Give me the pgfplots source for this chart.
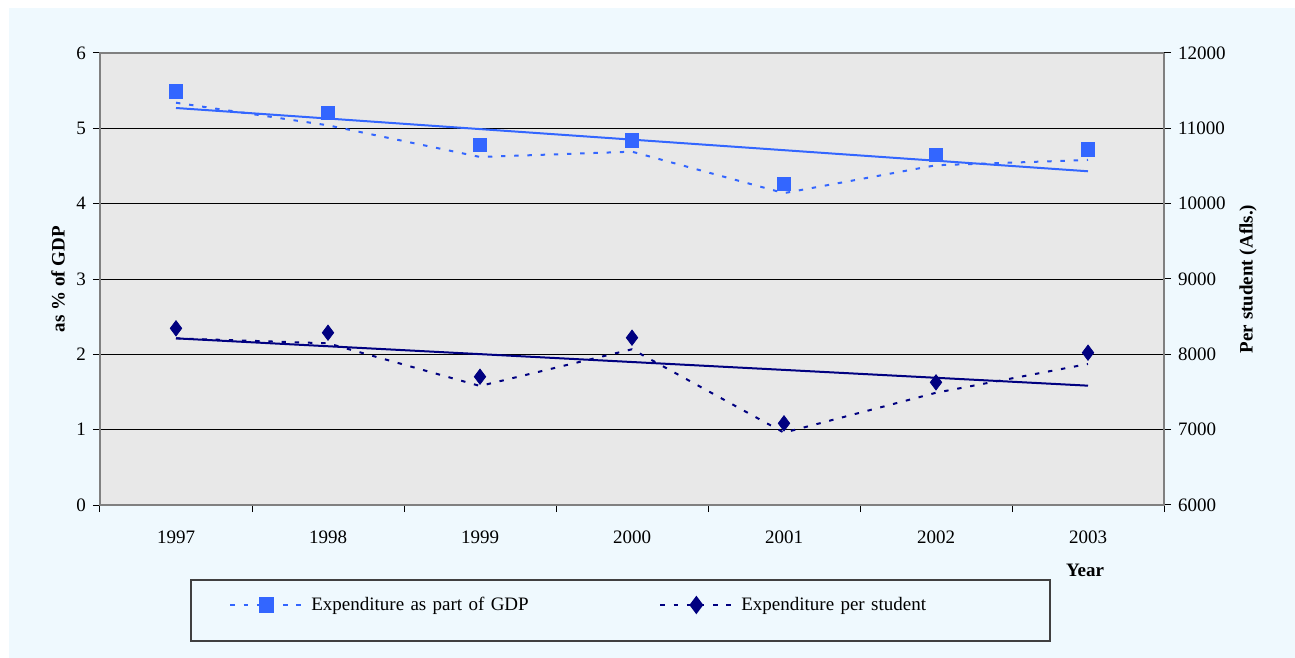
\documentclass[border=0pt]{standalone}
\usepackage{pgfplots}
\pgfplotsset{compat=1.18}
\usepackage{fontspec}
\setmainfont{Liberation Serif}
\definecolor{bgc}{RGB}{239,249,254}
\definecolor{plotbg}{RGB}{232,232,232}
\definecolor{gdpblue}{RGB}{51,102,255}
\definecolor{navy}{RGB}{0,0,128}
\definecolor{framegray}{RGB}{128,128,128}
\begin{document}
\begin{tikzpicture}
\useasboundingbox (-50pt,-76.5pt) rectangle (597.5pt,252.5pt);
\fill[bgc] (-45.5pt,-76.5pt) rectangle (597.5pt,248.5pt);
\pgfplotsset{
  every axis/.append style={
    scale only axis, width=532pt, height=226pt,
    at={(0,0)}, anchor=south west,
    font=\fontsize{9.5}{11}\selectfont,
    /pgf/number format/assume math mode=true,
    /pgf/number format/1000 sep={},
    xmin=-0.5, xmax=6.5,
    axis line style={draw=framegray, line width=1.2pt},
    every tick/.style={black, line width=0.5pt},
    tick align=outside,
    major tick length=3.5pt,
  },
  gdpline/.style={color=gdpblue, line width=1pt, dash pattern=on 2.2pt off 4.4pt},
  stuline/.style={color=navy, line width=1pt, dash pattern=on 2.2pt off 4.4pt},
}
\begin{axis}[
  axis background/.style={fill=plotbg},
  ymin=0, ymax=6, ytick={0,1,...,6},
  xtick={0,1,2,3,4,5,6},
  xticklabels={1997,1998,1999,2000,2001,2002,2003},
  minor xtick={-0.5,0.5,1.5,2.5,3.5,4.5,5.5,6.5},
  minor tick length=3.5pt,
  major x tick style={draw=none},
  minor x tick style={black, line width=0.5pt},
  tick pos=left,
  xticklabel style={yshift=-6pt},
  ymajorgrids, major grid style={black, line width=0.5pt},
  ylabel={\bfseries as \% of GDP},
  ylabel style={at={(axis description cs:-0.0395,0.5)}, anchor=center},
  xlabel={\bfseries Year},
  xlabel style={at={(axis description cs:0.9258,-0.1438)}, anchor=center},
]
\addplot[gdpline] coordinates {(0,5.34) (1,5.04) (2,4.62) (3,4.69) (4,4.14) (5,4.51) (6,4.58)};
\addplot[color=gdpblue, line width=1pt] coordinates {(0,5.27) (6,4.43)};
\addplot[only marks, mark=square*, mark size=3.3pt, color=gdpblue] coordinates {(0,5.49) (1,5.20) (2,4.78) (3,4.84) (4,4.26) (5,4.65) (6,4.72)};
\end{axis}
\begin{axis}[
  ymin=6000, ymax=12000, ytick={6000,7000,...,12000},
  scaled y ticks=false,
  yticklabel={\pgfmathprintnumber[fixed,precision=0]{\tick}},
  axis x line=none, axis y line*=right,
  ylabel={\bfseries Per student (Afls.)},
  ylabel style={at={(axis description cs:1.079,0.5)}, anchor=center},
  legend columns=2,
  legend cell align=left,
  legend style={draw=none, fill=none, inner sep=0pt,
    at={(axis description cs:0.1212,-0.2212)}, anchor=west,
    nodes={inner sep=0pt, text width=174pt, align=left},
    font=\fontsize{9.5}{11}\selectfont},
  legend image code/.code={
    \draw[#1, mark=none] (0pt,0pt) -- (36pt,0pt);
    \path[#1, draw=none] plot coordinates {(18pt,0pt)};
    \path (40pt,0pt);
  },
]
\addlegendimage{gdpline, mark=square*, mark size=3.3pt, mark options={solid}}
\addlegendentry{Expenditure as part of GDP}
\addplot[stuline, forget plot] coordinates {(0,8212) (1,8146) (2,7580) (3,8067) (4,6960) (5,7490) (6,7872)};
\addplot[color=navy, line width=1pt, forget plot] coordinates {(0,8212) (6,7584)};
\addplot[only marks, mark=diamond*, mark size=3.8pt, color=navy, forget plot] coordinates {(0,8345) (1,8287) (2,7703) (3,8221) (4,7084) (5,7628) (6,8022)};
\addlegendimage{stuline, mark=diamond*, mark size=3.8pt, mark options={solid}}
\addlegendentry{Expenditure per student}
\end{axis}
\draw[black!75, line width=0.6pt] (45.5pt,-37.5pt) rectangle (475pt,-68pt);
\end{tikzpicture}
\end{document}
